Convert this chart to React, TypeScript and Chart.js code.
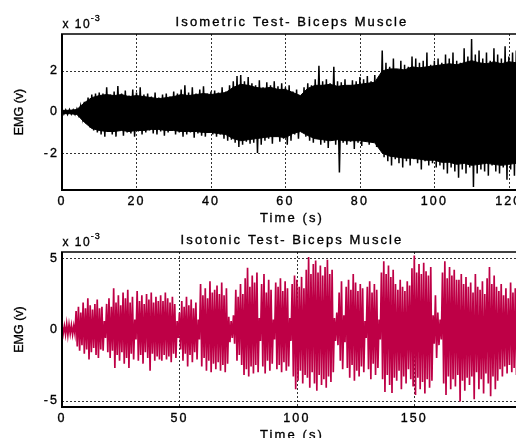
import React, { useEffect, useRef } from "react";
import { Chart, registerables } from "chart.js";

Chart.register(...registerables);

const FONT = '"Liberation Sans", Arial, Helvetica, sans-serif';

const isometricTitle = "Isometric Test- Biceps Muscle";
const isotonicTitle = "Isotonic Test- Biceps Muscle";
const xAxisTitle = "Time (s)";
const yAxisTitle = "EMG (v)";
const exponentBase = "x 10";
const exponentPower = "-3";

const isometricXTicks = [0, 20, 40, 60, 80, 100, 120];
const isometricYTicks = [-2, 0, 2];
const isotonicXTicks = [0, 50, 100, 150];
const isotonicYTicks = [-5, 0, 5];

// Isometric: spike peaks, one positive and one negative per second (10^-3 V)
const isometricStep = 1;
const isometricUpper = [
  0.12, 0.1, 0.12, 0.1,
  0.15, 0.3, 0.5, 0.7, 0.85, 0.9, 0.95,
  0.9, 1.2, 0.85, 1.0, 1.27, 0.9, 1.05, 0.8, 1.1, 0.95,
  1.2, 0.85, 0.9, 0.75, 0.95, 0.7, 0.85, 0.9, 0.75, 1.0,
  0.9, 1.1, 1.3, 0.95, 1.2, 0.9, 1.1, 1.25, 0.9, 1.0,
  1.05, 0.95, 1.2, 1.0, 1.3, 1.5, 1.75, 1.8, 1.5, 1.7,
  1.4, 1.3, 1.55, 1.2, 1.45, 1.3, 1.5, 1.25, 1.4, 1.2,
  1.3, 1.0, 1.1, 0.7, 1.2, 1.4, 1.3, 1.6, 2.25, 1.5,
  1.6, 1.4, 2.2, 1.5, 1.45, 1.6, 1.3, 1.55, 1.5, 1.7,
  1.6, 1.75, 1.5, 1.8, 1.6, 3.0, 2.4, 2.2, 2.6, 2.1,
  2.5, 2.3, 2.2, 2.7, 2.6, 2.4, 2.5, 2.9, 2.3, 2.5,
  2.6, 2.4, 2.8, 2.6, 2.9, 2.5, 2.4, 3.1, 2.7, 3.55,
  2.8, 3.0, 2.6, 2.9, 2.5, 3.1, 2.8, 2.6, 3.2, 2.7, 2.9, 3.0, 2.8,
];
const isometricLower = [
  -0.1, -0.12, -0.1, -0.12,
  -0.15, -0.3, -0.55, -0.75, -0.9, -1.0, -1.1,
  -1.2, -0.95, -1.1, -1.2, -0.9, -1.15, -1.0, -1.05, -1.2, -0.95,
  -1.1, -1.0, -0.9, -1.05, -1.1, -0.95, -1.15, -1.0, -0.9, -1.1,
  -1.0, -1.2, -1.1, -1.0, -1.25, -1.05, -1.15, -1.2, -0.95, -1.1,
  -1.2, -1.1, -1.3, -1.4, -1.35, -1.5, -1.7, -1.6, -1.45, -1.55,
  -1.5, -2.0, -1.6, -1.4, -1.3, -1.55, -1.2, -1.45, -1.3, -1.6,
  -1.4, -1.1, -1.3, -0.9, -1.2, -1.4, -1.5, -1.3, -1.6, -1.5,
  -1.75, -1.4, -1.6, -2.95, -1.5, -1.6, -1.45, -1.8, -1.5, -1.65,
  -1.4, -1.6, -1.5, -1.7, -1.6, -2.2, -2.4, -2.6, -2.3, -2.5,
  -2.7, -2.4, -2.6, -2.3, -2.5, -2.8, -2.4, -2.6, -2.5, -2.7,
  -2.6, -2.8, -3.0, -2.7, -2.9, -3.2, -2.8, -3.0, -2.7, -3.65,
  -3.0, -2.8, -2.9, -3.1, -2.6, -2.9, -3.0, -2.7, -3.3, -2.8, -3.1, -2.9, -3.0,
];
// Isometric: edges of the solid core band, every 2 s (10^-3 V)
const isometricCoreStep = 2;
const isometricCoreUpper = [
  0.08, 0.08, 0.12, 0.45, 0.7, 0.8, 0.85, 0.8, 0.85, 0.75,
  0.8, 0.75, 0.7, 0.65, 0.7, 0.75, 0.85, 0.8, 0.85, 0.9,
  0.85, 0.9, 0.95, 1.2, 1.35, 1.3, 1.2, 1.15, 1.2, 1.1,
  1.1, 0.95, 0.8, 1.15, 1.3, 1.3, 1.35, 1.25, 1.3, 1.3,
  1.35, 1.4, 1.45, 2.0, 2.1, 2.1, 2.05, 2.2, 2.15, 2.2,
  2.25, 2.3, 2.35, 2.3, 2.4, 2.5, 2.4, 2.35, 2.45, 2.35,
  2.45, 2.4, 2.4,
];
const isometricCoreLower = [
  -0.08, -0.08, -0.12, -0.5, -0.8, -0.9, -0.95, -0.95, -0.9, -0.95,
  -0.9, -0.9, -0.85, -0.85, -0.9, -0.9, -0.95, -0.95, -0.95, -1.0,
  -1.0, -1.05, -1.1, -1.3, -1.4, -1.35, -1.3, -1.25, -1.2, -1.2,
  -1.25, -1.05, -0.95, -1.15, -1.3, -1.35, -1.4, -1.35, -1.4, -1.4,
  -1.4, -1.45, -1.5, -2.0, -2.15, -2.2, -2.25, -2.25, -2.3, -2.35,
  -2.35, -2.45, -2.45, -2.55, -2.5, -2.6, -2.55, -2.5, -2.55, -2.6,
  -2.55, -2.5, -2.55,
];

// Isotonic: spike peaks, one positive and one negative per second (10^-3 V)
const isotonicStep = 1;
const isotonicUpper = [
  0.3, 0.25, 0.4, 0.35, 0.3, 0.25,
  1.3, 1.6, 1.2, 1.9, 1.5, 2.2, 1.7, 1.4, 1.8, 2.1, 1.5, 1.6,
  0.6,
  1.8, 2.2, 1.6, 2.9, 1.9, 2.4, 1.7, 2.6, 2.2, 2.8, 1.9, 2.3,
  0.7,
  2.7, 2.0, 2.4, 1.8, 2.5, 2.1, 2.6, 1.9, 2.3, 2.0,
  2.4, 2.0, 2.6, 2.2, 1.9, 2.3, 1.8,
  0.6,
  1.2, 2.0, 1.6, 2.3, 1.7, 2.1, 1.5, 1.9,
  0.7,
  3.2, 2.4, 2.9, 2.2, 3.4, 2.6, 2.8, 3.1, 2.5, 3.3, 2.4, 2.9,
  0.9, 0.6, 1.0,
  2.8, 2.3, 3.2, 2.5,
  3.6, 4.35, 3.0, 3.8, 3.3, 4.0,
  0.8,
  3.2, 3.9, 2.6, 3.5, 2.8, 0.7, 3.3,
  3.0, 3.6, 2.7, 3.4, 2.9, 0.8,
  3.2, 3.8, 3.5, 3.0, 3.7, 2.9,
  4.2, 5.1, 3.9, 4.6, 4.85, 4.0, 4.5, 3.8, 4.4, 4.9, 3.9, 4.2,
  0.8, 1.2, 2.6, 3.4, 1.0,
  3.0, 3.5, 2.8, 3.9, 3.3, 2.7, 3.2, 2.9,
  0.6,
  3.0, 3.4, 2.6, 3.2, 2.8,
  0.7,
  4.0, 4.8, 3.9, 4.5, 3.7, 4.2,
  3.2, 2.8, 3.5, 3.0, 2.7, 3.4, 3.1,
  4.3, 5.2, 4.0, 4.6, 3.9, 4.7, 4.1, 3.8, 4.4,
  1.0, 2.4, 1.2, 0.7,
  4.0, 4.8, 3.6, 4.4, 3.8, 4.2, 3.5,
  3.5, 3.9, 3.2, 3.7, 3.0,
  3.3, 2.6, 3.9, 3.0, 2.8, 3.4, 2.5,
  3.6, 4.4, 3.2, 3.8, 3.0,
  2.7, 3.2, 2.4, 2.9, 2.2, 3.3, 2.6, 2.9, 2.5, 2.8,
];
const isotonicLower = [
  -0.3, -0.35, -0.4, -0.3, -0.35, -0.3,
  -1.2, -1.5, -1.1, -1.7, -1.4, -2.1, -1.6, -1.3, -1.8, -2.0, -1.4, -1.5,
  -0.6,
  -1.6, -2.0, -1.5, -2.7, -1.8, -2.2, -1.6, -2.4, -2.0, -2.7, -1.7, -2.1,
  -0.7,
  -2.2, -1.8, -2.4, -1.6, -2.0, -2.9, -1.7, -2.2, -1.9, -2.1,
  -2.2, -1.8, -2.1, -1.9, -2.3, -1.7, -2.0,
  -0.6,
  -1.4, -2.2, -1.7, -2.6, -1.8, -2.3, -1.6, -2.1,
  -0.7,
  -2.6, -2.0, -2.9, -2.2, -3.0, -2.4, -2.8, -2.3, -2.9, -2.5, -3.0, -2.4,
  -0.9, -0.6, -1.0,
  -2.2, -1.8, -2.5, -3.2,
  -2.8, -3.3, -2.6, -3.1, -2.5, -3.0,
  -0.8,
  -2.6, -3.1, -2.2, -2.9, -2.4, -0.7, -2.8,
  -2.5, -3.0, -2.3, -2.9, -2.6, -0.8,
  -3.3, -4.2, -3.6, -2.9, -3.8, -3.2,
  -3.4, -4.1, -3.0, -3.8, -4.3, -3.2, -3.9, -3.5, -4.1, -3.3, -3.7, -3.0,
  -0.8, -1.1, -2.2, -2.8, -0.9,
  -2.7, -3.4, -2.5, -3.6, -2.9, -3.3, -2.6, -3.0,
  -0.6,
  -2.8, -3.5, -2.4, -3.2, -2.7,
  -0.7,
  -3.5, -4.4, -3.2, -3.9, -4.46, -3.4,
  -3.6, -2.9, -4.2, -3.3, -3.8, -2.8, -3.5,
  -4.0, -4.6, -3.4, -4.2, -3.7, -4.5, -3.5, -4.1, -3.6,
  -1.0, -2.0, -1.1, -0.7,
  -3.8, -4.6, -3.3, -4.2, -3.5, -4.0, -3.2,
  -5.07, -3.6, -4.3, -3.4, -3.9,
  -3.3, -4.9, -3.0, -4.2, -3.5, -4.5, -3.1,
  -3.8, -4.7, -3.3, -4.2, -3.6,
  -2.8, -3.3, -2.6, -3.1, -2.5, -3.0, -2.7, -3.2, -2.6, -2.9,
];

const BLACK = "#000000";
const CRIMSON = "#BE0046";
const LS = "2.1px";
const TEXT_STROKE = 0.35;

type PanelProps = {
  top: number;
  height: number;
  padTop: number;
  padBottom: number;
  xMax: number;
  yLim: number;
  xTicks: number[];
  yTicks: number[];
  title: string;
  kind: "isometric" | "isotonic";
};

function strokeFill(ctx: CanvasRenderingContext2D, s: string, x: number, y: number) {
  ctx.fillText(s, x, y);
  ctx.strokeText(s, x, y);
}

function decorPlugin(p: PanelProps) {
  return {
    id: "decor",
    beforeDraw(chart: any) {
      chart.ctx.letterSpacing = LS;
    },
    beforeDatasetsDraw(chart: any) {
      const { ctx, chartArea: ca, scales } = chart;
      ctx.save();
      ctx.letterSpacing = "0px";
      ctx.strokeStyle = "#333";
      ctx.lineWidth = 1;
      ctx.setLineDash([2, 2]);
      for (const v of p.xTicks) {
        const px = Math.round(scales.x.getPixelForValue(v)) + 0.5;
        if (px <= ca.left + 2 || px >= ca.right) continue;
        ctx.beginPath();
        ctx.moveTo(px, ca.top);
        ctx.lineTo(px, ca.bottom);
        ctx.stroke();
      }
      for (const v of p.yTicks) {
        const py = Math.round(scales.y.getPixelForValue(v)) + 0.5;
        ctx.beginPath();
        ctx.moveTo(ca.left, py);
        ctx.lineTo(ca.right + 10, py);
        ctx.stroke();
      }
      ctx.restore();
    },
    afterDatasetsDraw(chart: any) {
      const { ctx, chartArea: ca } = chart;
      ctx.save();
      ctx.setLineDash([]);
      ctx.strokeStyle = BLACK;
      ctx.lineWidth = 2;
      ctx.beginPath();
      ctx.moveTo(ca.left, ca.top);
      ctx.lineTo(ca.left, ca.bottom);
      ctx.lineTo(ca.right + 10, ca.bottom);
      ctx.stroke();
      ctx.lineWidth = 1.5;
      ctx.beginPath();
      ctx.moveTo(ca.left - 1, ca.top);
      ctx.lineTo(ca.right + 10, ca.top);
      ctx.stroke();
      ctx.restore();
    },
    afterDraw(chart: any) {
      const { ctx, chartArea: ca } = chart;
      const cx = (ca.left + ca.right) / 2;
      ctx.save();
      ctx.fillStyle = BLACK;
      ctx.strokeStyle = BLACK;
      ctx.lineWidth = TEXT_STROKE;
      ctx.letterSpacing = LS;
      ctx.font = `13px ${FONT}`;
      ctx.textAlign = "center";
      ctx.textBaseline = "alphabetic";
      strokeFill(ctx, p.title, cx + 1, ca.top - 8.5);
      ctx.textBaseline = "middle";
      strokeFill(ctx, xAxisTitle, cx + 1, ca.bottom + 28);
      // exponent
      ctx.textAlign = "left";
      ctx.textBaseline = "alphabetic";
      ctx.letterSpacing = "1.5px";
      ctx.font = `12px ${FONT}`;
      strokeFill(ctx, exponentBase, ca.left + 0.5, ca.top - 6);
      const w = ctx.measureText(exponentBase).width;
      ctx.font = `9px ${FONT}`;
      ctx.letterSpacing = "1px";
      strokeFill(ctx, exponentPower, ca.left + w, ca.top - 13.5);
      // y title
      ctx.letterSpacing = "0px";
      ctx.font = `12.5px ${FONT}`;
      ctx.translate(20, (ca.top + ca.bottom) / 2);
      ctx.rotate(-Math.PI / 2);
      ctx.textAlign = "center";
      ctx.textBaseline = "middle";
      strokeFill(ctx, yAxisTitle, 0, 0);
      ctx.restore();
    },
  };
}

function zigzag(upper: number[], lower: number[], step: number) {
  const pts: { x: number; y: number }[] = [];
  upper.forEach((v, i) => {
    pts.push({ x: i * step, y: v });
    pts.push({ x: i * step + step / 2, y: lower[i] });
  });
  return pts;
}

function buildDatasets(p: PanelProps) {
  if (p.kind === "isometric") {
    return [
      {
        data: isometricCoreUpper.map((v, i) => ({ x: i * isometricCoreStep, y: v })),
        borderColor: BLACK,
        backgroundColor: BLACK,
        borderWidth: 1,
        fill: "+1",
        pointRadius: 0,
      },
      {
        data: isometricCoreLower.map((v, i) => ({ x: i * isometricCoreStep, y: v })),
        borderColor: BLACK,
        backgroundColor: BLACK,
        borderWidth: 1,
        fill: false,
        pointRadius: 0,
      },
      {
        data: zigzag(isometricUpper, isometricLower, isometricStep),
        borderColor: BLACK,
        backgroundColor: BLACK,
        borderWidth: 1.5,
        fill: false,
        pointRadius: 0,
      },
    ];
  }
  return [
    {
      data: zigzag(isotonicUpper, isotonicLower, isotonicStep),
      borderColor: CRIMSON,
      backgroundColor: CRIMSON,
      borderWidth: 1.7,
      fill: false,
      pointRadius: 0,
    },
  ];
}

function Panel(p: PanelProps) {
  const ref = useRef<HTMLCanvasElement | null>(null);
  useEffect(() => {
    if (!ref.current) return;
    const tickFont = { family: FONT, size: 12.5 };
    const chart = new Chart(ref.current, {
      type: "line",
      data: { datasets: buildDatasets(p) as any },
      options: {
        animation: false,
        responsive: false,
        events: [],
        layout: { padding: { top: p.padTop, left: 0, right: 4, bottom: p.padBottom } },
        plugins: {
          legend: { display: false },
          title: { display: false },
          tooltip: { enabled: false },
        },
        elements: { line: { tension: 0 }, point: { radius: 0 } },
        scales: {
          x: {
            type: "linear",
            min: 0,
            max: p.xMax,
            afterFit: (s: any) => {
              s.height = 30;
            },
            afterBuildTicks: (s: any) => {
              s.ticks = p.xTicks.map((v) => ({ value: v }));
            },
            grid: { display: false, drawTicks: false },
            border: { display: false },
            ticks: {
              padding: 4,
              color: BLACK,
              font: tickFont,
              maxRotation: 0,
              minRotation: 0,
              autoSkip: false,
              textStrokeColor: BLACK,
              textStrokeWidth: TEXT_STROKE,
              callback: (v: any) => String(v),
            },
          },
          y: {
            type: "linear",
            min: -p.yLim,
            max: p.yLim,
            afterFit: (s: any) => {
              s.width = 62;
            },
            afterBuildTicks: (s: any) => {
              s.ticks = p.yTicks.map((v) => ({ value: v }));
            },
            grid: { display: false, drawTicks: false },
            border: { display: false },
            ticks: {
              padding: 3,
              color: BLACK,
              font: tickFont,
              autoSkip: false,
              textStrokeColor: BLACK,
              textStrokeWidth: TEXT_STROKE,
              callback: (v: any) => String(v),
            },
          },
        },
      } as any,
      plugins: [decorPlugin(p) as any],
    });
    return () => chart.destroy();
  }, []);
  return (
    <canvas
      ref={ref}
      width={524}
      height={p.height}
      style={{ position: "absolute", left: 0, top: p.top, display: "block" }}
    />
  );
}

export default function App() {
  return (
    <div
      style={{
        position: "fixed",
        left: 0,
        top: 0,
        width: 516,
        height: 438,
        overflow: "hidden",
        background: "#ffffff",
      }}
    >
      <Panel
        top={0}
        height={228}
        padTop={34}
        padBottom={8}
        xMax={123}
        yLim={3.8}
        xTicks={isometricXTicks}
        yTicks={isometricYTicks}
        title={isometricTitle}
        kind="isometric"
      />
      <Panel
        top={220}
        height={230}
        padTop={32}
        padBottom={13}
        xMax={195}
        yLim={5.45}
        xTicks={isotonicXTicks}
        yTicks={isotonicYTicks}
        title={isotonicTitle}
        kind="isotonic"
      />
    </div>
  );
}
